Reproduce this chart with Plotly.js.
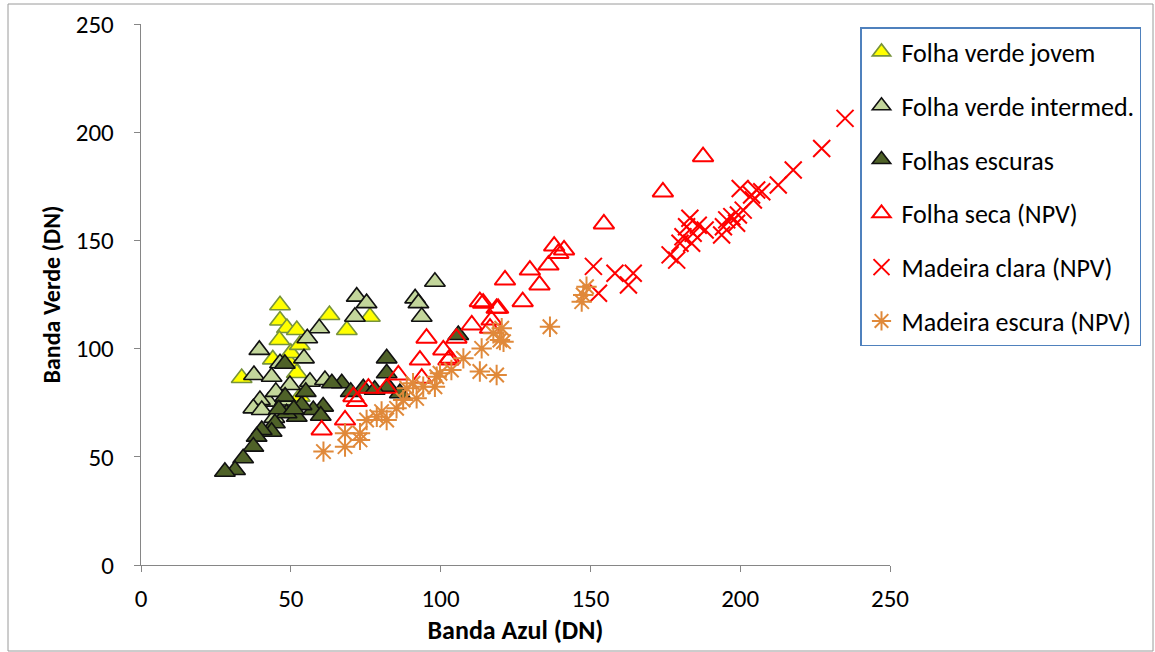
<!DOCTYPE html>
<html>
<head>
<meta charset="utf-8">
<script src="https://cdn.plot.ly/plotly-3.0.1.min.js"></script>
<style>html,body{margin:0;padding:0;background:#fff;}#chart{width:1155px;height:652px;}</style>
</head>
<body>
<div id="chart"></div>
<script>
// Data (Banda Azul, Banda Verde) per class
const jovemX = [33.6, 46.4, 46.4, 48.7, 52.0, 46.2, 62.9, 68.7, 76.4, 49.7, 52.0, 53.0, 44.0, 50.0, 53.0];
const jovemY = [86.4, 120.0, 113.0, 109.5, 108.6, 104.0, 115.5, 108.6, 114.7, 93.3, 88.7, 77.8, 95.0, 98.0, 101.7];

const intermedX = [72.0, 75.3, 71.4, 98.1, 91.5, 92.6, 93.7, 59.5, 55.5, 39.5, 54.4, 46.4, 37.7, 43.6, 56.4, 61.4, 49.7, 42.5, 39.7, 37.5, 40.3, 45.0, 48.0, 44.5];
const intermedY = [124.0, 121.0, 114.7, 130.9, 123.2, 121.0, 114.7, 109.4, 104.8, 99.4, 95.5, 93.2, 87.8, 87.0, 84.7, 85.5, 83.2, 75.5, 76.2, 72.4, 71.6, 80.0, 76.0, 68.0];

const escurasX = [105.9, 82.0, 82.0, 67.0, 63.7, 74.2, 82.5, 86.4, 60.8, 57.5, 53.6, 52.0, 48.6, 48.1, 44.7, 43.6, 40.3, 38.6, 37.5, 34.1, 31.4, 28.0, 48.0, 55.0, 70.0, 78.0, 60.0, 46.0, 51.0];
const escurasY = [106.3, 95.5, 88.6, 84.0, 84.0, 81.7, 82.4, 79.4, 73.2, 71.6, 73.9, 68.5, 70.1, 77.8, 65.5, 61.6, 62.4, 59.3, 54.7, 49.3, 43.9, 43.1, 93.0, 80.0, 80.0, 81.0, 69.0, 72.0, 72.0];

const secaX = [60.3, 68.1, 70.9, 72.0, 75.9, 82.0, 85.9, 93.1, 95.3, 100.9, 103.1, 105.3, 110.4, 113.1, 114.2, 117.0, 116.5, 119.2, 121.5, 127.4, 129.8, 133.0, 136.0, 139.3, 137.9, 141.2, 154.5, 174.2, 187.6, 93.7, 102.6, 118.7];
const secaY = [62.4, 67.0, 77.8, 75.5, 81.7, 81.7, 87.8, 94.7, 104.8, 99.4, 95.5, 104.8, 110.9, 121.7, 121.0, 113.2, 109.4, 118.6, 131.7, 121.7, 136.3, 129.4, 138.6, 144.0, 147.4, 145.6, 157.6, 172.4, 188.7, 86.3, 94.7, 118.6];

const claraX = [151.0, 152.7, 158.2, 162.7, 164.3, 176.6, 178.8, 179.9, 180.9, 182.1, 183.2, 183.8, 184.3, 188.3, 193.8, 194.4, 195.5, 197.2, 198.8, 199.4, 200.0, 203.8, 204.4, 205.5, 207.2, 212.7, 217.7, 227.2, 235.0, 186.0, 201.0];
const claraY = [138.0, 125.6, 134.8, 129.4, 134.8, 143.3, 140.9, 148.7, 151.7, 156.3, 160.2, 148.7, 153.3, 154.8, 152.5, 156.3, 159.5, 161.0, 157.9, 161.7, 174.0, 171.0, 168.7, 173.3, 172.5, 175.6, 182.5, 192.5, 206.4, 157.0, 164.0];

const madEscX = [60.9, 68.1, 73.1, 68.1, 73.1, 75.3, 78.7, 80.3, 82.0, 85.3, 87.5, 88.7, 90.8, 92.0, 94.2, 98.1, 98.7, 99.8, 103.6, 107.6, 113.7, 113.1, 118.7, 117.6, 120.4, 121.0, 119.8, 136.5, 147.6, 147.1, 148.7];
const madEscY = [52.4, 54.7, 57.8, 60.9, 60.9, 67.0, 68.5, 70.9, 67.0, 72.4, 76.2, 81.7, 84.0, 77.0, 82.4, 82.4, 87.0, 88.6, 90.1, 95.5, 100.1, 89.4, 87.8, 107.1, 109.4, 103.2, 104.0, 110.1, 124.8, 121.7, 128.6];

const names = ["Folha verde jovem", "Folha verde intermed.", "Folhas escuras", "Folha seca (NPV)", "Madeira clara (NPV)", "Madeira escura (NPV)"];

const FONT = "Carlito, Calibri, 'Liberation Sans Narrow', 'Open Sans', sans-serif";

function tr(x, y, i, marker) {
  return {type: 'scatter', mode: 'markers', x: x, y: y, name: names[i], legendgroup: 'g' + i, marker: marker, cliponaxis: false};
}

const traces = [
  tr(jovemX, jovemY, 0, {symbol: 'triangle-up', size: 18, color: '#FFFF00', line: {color: '#77933C', width: 1.6}}),
  tr(intermedX, intermedY, 1, {symbol: 'triangle-up', size: 18, color: '#C3D69B', line: {color: '#111111', width: 1.6}}),
  tr(escurasX, escurasY, 2, {symbol: 'triangle-up', size: 18, color: '#4F6228', line: {color: '#111111', width: 1.6}}),
  tr(secaX, secaY, 3, {symbol: 'triangle-up-open', size: 18, color: '#FF0000', line: {color: '#FF0000', width: 2}}),
  tr(claraX, claraY, 4, {symbol: 'x-thin-open', size: 17, color: '#FF0000', line: {color: '#FF0000', width: 2}}),
  tr(madEscX, madEscY, 5, {symbol: 'asterisk-open', size: 17, color: '#E0893A', line: {color: '#E0893A', width: 2}})
];

const L = 141, R = 890, T = 24, B = 565;
const pw = R - L, ph = B - T;
function px(xp) { return (xp - L) / pw; }
function py(yp) { return (B - yp) / ph; }

const layout = {
  width: 1155, height: 652,
  margin: {l: L, r: 1155 - R, t: T, b: 652 - B, pad: 0},
  paper_bgcolor: '#ffffff', plot_bgcolor: 'rgba(0,0,0,0)',
  font: {family: FONT, size: 25, color: '#000000'},
  showlegend: true,
  legend: {
    x: px(860), y: py(27), xanchor: 'left', yanchor: 'top',
    bgcolor: '#ffffff', bordercolor: '#4F81BD', borderwidth: 1.5,
    font: {family: FONT, size: 26, color: '#000000'},
    tracegroupgap: 17, itemsizing: 'trace', itemwidth: 30
  },
  xaxis: {
    range: [0, 250], tick0: 0, dtick: 50, showgrid: false, zeroline: false,
    showline: true, linecolor: '#868686', linewidth: 1.2,
    ticks: 'outside', ticklen: 6, tickcolor: '#868686', ticklabelstandoff: 5,
    tickfont: {family: FONT, size: 25},
    title: {text: '<b>Banda Azul (DN)</b>', font: {family: FONT, size: 26}, standoff: 2}
  },
  yaxis: {
    range: [0, 250], tick0: 0, dtick: 50, showgrid: false, zeroline: false,
    showline: true, linecolor: '#868686', linewidth: 1.2,
    ticks: 'outside', ticklen: 6, tickcolor: '#868686', ticklabelstandoff: 15,
    tickfont: {family: FONT, size: 25},
    title: {text: '<b>Banda Verde (DN)</b>', font: {family: FONT, size: 24}, standoff: 8}
  },
  shapes: [{
    type: 'rect', xref: 'paper', yref: 'paper',
    x0: px(8), x1: px(1153), y0: py(651), y1: py(4),
    line: {color: '#9A9A9A', width: 1}, fillcolor: 'rgba(0,0,0,0)', layer: 'below'
  }]
};

Plotly.newPlot('chart', traces, layout, {displayModeBar: false, staticPlot: true});
</script>
</body>
</html>
